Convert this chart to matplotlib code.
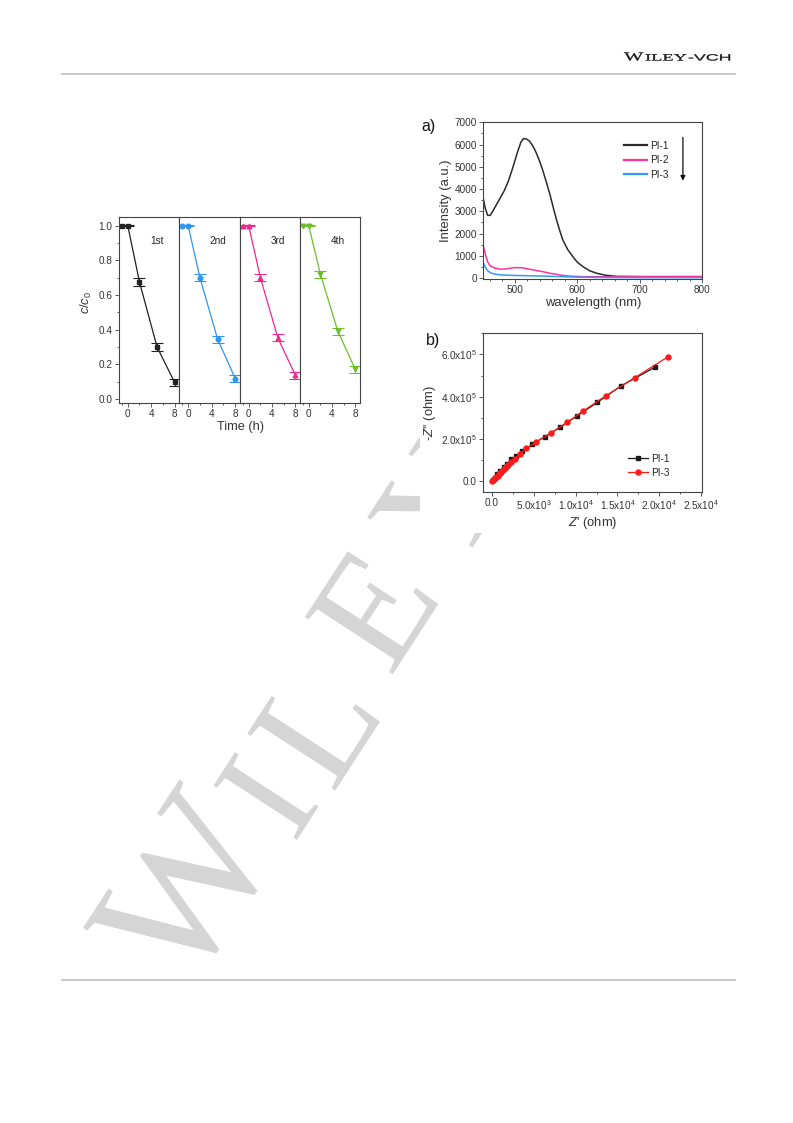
import matplotlib
matplotlib.use("Agg")
import matplotlib.pyplot as plt
from matplotlib.lines import Line2D
from matplotlib.patches import Rectangle, PathPatch
from matplotlib.textpath import TextPath
from matplotlib.font_manager import FontProperties
from matplotlib.transforms import Affine2D
from matplotlib.ticker import MultipleLocator, FixedLocator

plt.rcParams['font.family'] = ['Liberation Sans', 'DejaVu Sans']
plt.rcParams['mathtext.fontset'] = 'custom'
plt.rcParams['mathtext.rm'] = 'Liberation Sans'
plt.rcParams['mathtext.it'] = 'Liberation Sans:italic'
plt.rcParams['axes.edgecolor'] = '#444444'
plt.rcParams['axes.linewidth'] = 0.8
plt.rcParams['text.color'] = '#222222'

# ---- photodegradation cycles (c/c0 vs time)
times = [-1, 0, 2, 5, 8]
run1 = [1.0, 1.0, 0.675, 0.30, 0.095]
run2 = [1.0, 1.0, 0.70, 0.345, 0.117]
run3 = [1.0, 1.0, 0.70, 0.352, 0.137]
run4 = [1.0, 1.0, 0.72, 0.39, 0.17]
err1 = [0.004, 0.004, 0.021, 0.021, 0.021]
err2 = [0.004, 0.004, 0.02, 0.02, 0.02]
err3 = [0.004, 0.004, 0.02, 0.02, 0.02]
err4 = [0.004, 0.004, 0.02, 0.02, 0.02]
run_labels = ['1st', '2nd', '3rd', '4th']

# ---- a) emission spectra
wl1 = [450, 453, 457, 461, 465, 470, 476, 483, 490, 497, 504, 510, 514, 519, 524, 530,
       535, 540, 545, 550, 556, 562, 567, 572, 577, 585, 593, 600, 610, 620, 631,
       645, 663, 700, 750, 800]
pi1 = [3580, 3150, 2820, 2820, 3000, 3250, 3550, 3900, 4350, 4950, 5600, 6100, 6270,
       6250, 6150, 5900, 5600, 5250, 4850, 4380, 3810, 3150, 2620, 2150, 1720, 1280,
       970, 720, 500, 330, 220, 130, 80, 70, 70, 70]
wl2 = [450, 453, 457, 461, 468, 476, 484, 492, 500, 508, 515, 524, 535, 545, 556, 567,
       578, 590, 610, 650, 700, 800]
pi2 = [1450, 1100, 720, 560, 450, 405, 405, 440, 470, 470, 450, 400, 340, 290, 220,
       170, 115, 85, 65, 60, 60, 60]
wl3 = [450, 453, 457, 462, 470, 480, 500, 530, 560, 600, 650, 700, 800]
pi3 = [700, 500, 330, 230, 170, 140, 120, 100, 80, 45, 25, 20, 18]

# ---- b) Nyquist plots
z1_re = [80, 320, 640, 1000, 1400, 1790, 2310, 2830, 3630, 4820, 6300, 8090, 10210,
         12600, 15390, 19460]
z1_im = [5e3, 1.7e4, 3.3e4, 4.9e4, 6.5e4, 8.1e4, 1.03e5, 1.18e5, 1.42e5, 1.74e5,
         2.1e5, 2.54e5, 3.1e5, 3.73e5, 4.5e5, 5.39e5]
z3_re = [40, 120, 240, 380, 520, 660, 800, 960, 1120, 1320, 1520, 1710, 1910, 2310,
         2790, 3310, 4110, 5300, 7100, 8970, 10890, 13600, 17070, 21050]
z3_im = [0, 5e3, 1e4, 1.5e4, 2e4, 2.6e4, 3.2e4, 3.8e4, 4.4e4, 5.2e4, 6e4, 6.8e4,
         7.6e4, 9e4, 1.07e5, 1.28e5, 1.55e5, 1.86e5, 2.29e5, 2.78e5, 3.32e5, 4.04e5,
         4.9e5, 5.89e5]

# watermark letters: centre on the page (px) and em size (px)
mark_letters = ['W', 'I', 'L', 'E', 'Y']
mark_x = [184, 266, 314, 372, 441]
mark_y = [888, 796, 727, 610, 500]
mark_em = [188, 152, 160, 160, 160]

W, H = 793, 1123
fig = plt.figure(figsize=(W / 100, H / 100), dpi=100)


def box(x0, y0, x1, y1):
    # pixel box (top-left origin) -> figure fraction
    return [x0 / W, 1 - y1 / H, (x1 - x0) / W, (y1 - y0) / H]


def stretched(s, x, y_base, em_x, em_y, family):
    tp = TextPath((0, 0), s, size=1, prop=FontProperties(family=family))
    tr = Affine2D().scale(em_x / 100, em_y / 100).translate(x / 100, (H - y_base) / 100)
    fig.add_artist(PathPatch(tp, transform=tr + fig.dpi_scale_trans,
                             facecolor='#1a1a1a', edgecolor='#1a1a1a', lw=0.25))


def mark(ch, cx, cy, em):
    # one watermark glyph, centred on (cx, cy) px and turned 57 degrees
    tp = TextPath((0, 0), ch, size=1, prop=FontProperties(family='Liberation Serif'))
    bb = tp.get_extents()
    tr = (Affine2D().translate(-(bb.x0 + bb.x1) / 2, -(bb.y0 + bb.y1) / 2)
          .scale(em / 100).rotate_deg(57).translate(cx / 100, (H - cy) / 100))
    fig.add_artist(PathPatch(tp, transform=tr + fig.dpi_scale_trans,
                             facecolor='#d5d5d5', lw=0, zorder=-3))


# page furniture
stretched('W', 624, 60.5, 20.4, 12.2, 'Liberation Serif')
stretched('ILEY', 645, 60.5, 18.4, 9.6, 'Liberation Serif')
stretched('-VCH', 688, 60.5, 17.8, 9.0, 'Liberation Sans')
for yy in (73.5, 980):
    fig.add_artist(Line2D([62 / W, 735 / W], [1 - yy / H] * 2, color='#c8c8c8', lw=1.4))

for ch, mx, my, me in zip(mark_letters, mark_x, mark_y, mark_em):
    mark(ch, mx, my, me)
for b in [(415, 103, 740, 318), (420, 318, 740, 533)]:
    fig.add_artist(Rectangle((b[0] / W, 1 - b[3] / H), (b[2] - b[0]) / W,
                             (b[3] - b[1]) / H, transform=fig.transFigure,
                             facecolor='white', edgecolor='none', zorder=-2))

# ---- left figure
runs = [run1, run2, run3, run4]
errs = [err1, err2, err3, err4]
colors = ['#222222', '#2f95f2', '#f3278c', '#6cc02a']
markers = ['s', 'o', '^', 'v']
edges = [119, 179.3, 240, 300, 360]
for i in range(4):
    ax = fig.add_axes(box(edges[i], 216.7, edges[i + 1], 402.7))
    ax.errorbar(times, runs[i], yerr=errs[i], color=colors[i], marker=markers[i],
                ms=3.3, lw=0.9, elinewidth=0.8, capsize=4.6, capthick=0.8)
    ax.set_xlim(-1.5, 8.8)
    ax.set_ylim(-0.022, 1.052)
    ax.set_xticks([0, 4, 8])
    ax.xaxis.set_minor_locator(FixedLocator([-1, 2, 6]))
    ax.yaxis.set_major_locator(MultipleLocator(0.2))
    ax.yaxis.set_minor_locator(MultipleLocator(0.1))
    ax.tick_params(which='both', direction='out', width=0.6, labelsize=7.2,
                   color='#444444', labelcolor='#333333', pad=2)
    ax.tick_params(which='major', length=2.6)
    ax.tick_params(which='minor', length=1.5)
    if i > 0:
        ax.tick_params(axis='y', which='both', left=False, labelleft=False)
    ax.text(5, 0.91, run_labels[i], ha='center', va='center', fontsize=7.2,
            color='#222222')

fig.text(241 / W, 1 - 427 / H, 'Time (h)', ha='center', va='center', fontsize=9.2,
         color='#333333')
fig.text(86 / W, 1 - 303 / H, r'$c/c_0$', rotation=90, ha='center', va='center',
         fontsize=9.2, color='#333333')

# ---- a) spectra
axa = fig.add_axes(box(483.3, 122.3, 702.3, 279))
axa.plot(wl1, pi1, color='#2b2b2b', lw=1.1, label='PI-1')
axa.plot(wl2, pi2, color='#ff3399', lw=1.1, label='PI-2')
axa.plot(wl3, pi3, color='#3399ff', lw=1.1, label='PI-3')
axa.set_xlim(450, 800)
axa.set_ylim(-40, 7000)
axa.set_xticks([500, 600, 700, 800])
axa.xaxis.set_minor_locator(MultipleLocator(20))
axa.yaxis.set_major_locator(MultipleLocator(1000))
axa.yaxis.set_minor_locator(MultipleLocator(500))
axa.set_xlabel('wavelength (nm)', fontsize=9.4, color='#333333', labelpad=1)
axa.set_ylabel('Intensity (a.u.)', fontsize=9.4, color='#333333', labelpad=2)
leg = axa.legend(loc='upper left', bbox_to_anchor=(0.62, 0.915), frameon=False,
                 fontsize=7.2, handlelength=2.3, labelspacing=0.45,
                 handletextpad=0.3, borderpad=0)
for ln in leg.get_lines():
    ln.set_linewidth(1.6)
axa.annotate('', xy=(769, 4250), xytext=(769, 6450),
             arrowprops=dict(arrowstyle='-|>', color='#111111', lw=0.9,
                             mutation_scale=7))
fig.text(421 / W, 1 - 127 / H, 'a)', ha='left', va='center', fontsize=11.5,
         color='#111111')

# ---- b) impedance
axb = fig.add_axes(box(483.3, 333.3, 702.3, 491.7))
l1, = axb.plot(z1_re, z1_im, color='#1a1a1a', marker='s', ms=2.6, lw=0.9,
               label='PI-1', zorder=2)
l3, = axb.plot(z3_re, z3_im, color='#ff1a1a', marker='o', ms=3.6, lw=0.9,
               label='PI-3', zorder=3)
axb.set_xlim(-1050, 25150)
axb.set_ylim(-0.5e5, 7.0e5)
axb.set_xticks([0, 5000, 10000, 15000, 20000, 25000],
               ['0.0', r'5.0x10$^3$', r'1.0x10$^4$', r'1.5x10$^4$', r'2.0x10$^4$',
                r'2.5x10$^4$'])
axb.set_yticks([0, 2e5, 4e5, 6e5],
               ['0.0', r'2.0x10$^5$', r'4.0x10$^5$', r'6.0x10$^5$'])
axb.xaxis.set_minor_locator(MultipleLocator(2500))
axb.yaxis.set_minor_locator(MultipleLocator(1e5))
axb.set_xlabel(r"$Z$' (ohm)", fontsize=9.4, color='#333333', labelpad=2)
axb.set_ylabel(r"-$Z$'' (ohm)", fontsize=9.4, color='#333333', labelpad=2)
axb.legend([l1, l3], ['PI-1', 'PI-3'], loc='lower left', bbox_to_anchor=(0.64, 0.055),
           frameon=False, fontsize=7.2, handlelength=2.0, labelspacing=0.4,
           handletextpad=0.3, borderpad=0)
fig.text(426 / W, 1 - 340 / H, 'b)', ha='left', va='center', fontsize=11.5,
         color='#111111')

for ax in (axa, axb):
    ax.tick_params(which='both', direction='out', width=0.6, labelsize=7.2,
                   color='#444444', labelcolor='#333333', pad=2)
    ax.tick_params(which='major', length=2.6)
    ax.tick_params(which='minor', length=1.5)

fig.savefig('out.png', dpi=100, facecolor='white')
